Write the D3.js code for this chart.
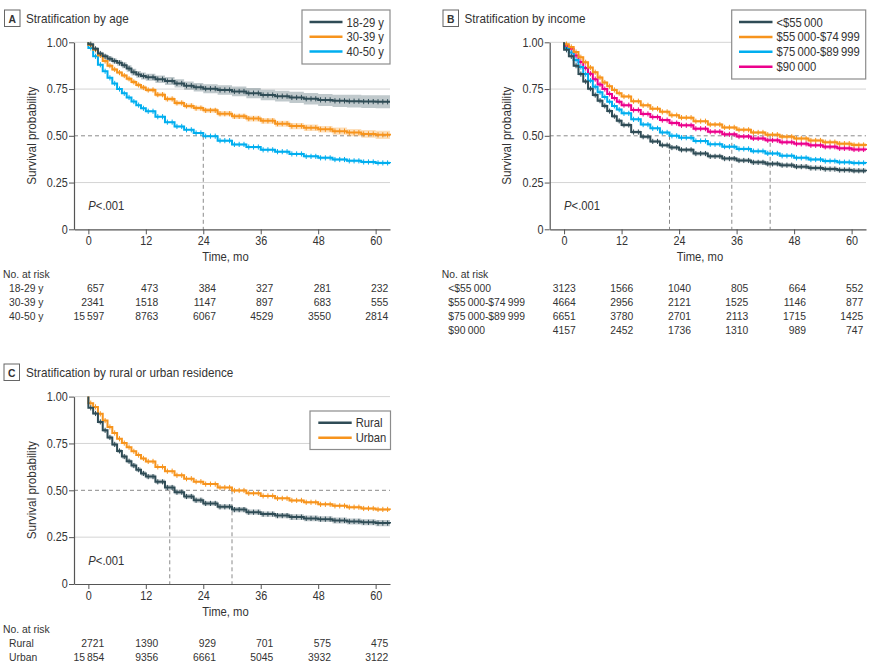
<!DOCTYPE html>
<html><head><meta charset="utf-8">
<script src="https://cdn.jsdelivr.net/npm/d3@7"></script>
<style>
body{margin:0;background:#fff}
text{font-family:"Liberation Sans",Arial,sans-serif;fill:#333}
</style>
</head><body><svg id="c" width="875" height="668"></svg>
<script>
// ---------- DATA ----------
const months = [0,1,2,3,4,5,6,7,8,9,10,11,12,14,16,18,20,22,24,27,30,33,36,39,42,45,48,51,54,57,60,63];
const xTicks = [0,12,24,36,48,60];
const yTicks = [0,0.25,0.5,0.75,1];
const riskTimes = [0,12,24,36,48,60];

// Panel A: age
const ageLabels = ["18-29 y","30-39 y","40-50 y"];
const age1829 = [0.99,0.965,0.94,0.925,0.912,0.9,0.89,0.877,0.86,0.84,0.828,0.82,0.813,0.803,0.793,0.78,0.768,0.76,0.752,0.745,0.737,0.728,0.718,0.712,0.705,0.698,0.692,0.687,0.685,0.683,0.682,0.682];
const age3039 = [0.985,0.96,0.93,0.9,0.875,0.855,0.838,0.822,0.805,0.788,0.772,0.758,0.745,0.72,0.697,0.676,0.66,0.648,0.636,0.618,0.604,0.592,0.58,0.565,0.552,0.543,0.535,0.525,0.517,0.51,0.505,0.502];
const age4050 = [0.97,0.925,0.88,0.845,0.81,0.78,0.75,0.727,0.705,0.683,0.664,0.647,0.631,0.602,0.573,0.55,0.532,0.515,0.498,0.474,0.454,0.44,0.425,0.415,0.403,0.39,0.382,0.373,0.366,0.36,0.355,0.353];
const ci1829 = [0.004,0.008,0.01,0.012,0.013,0.014,0.015,0.016,0.017,0.018,0.018,0.019,0.019,0.02,0.021,0.022,0.022,0.023,0.024,0.025,0.026,0.027,0.028,0.029,0.03,0.031,0.032,0.033,0.034,0.034,0.035,0.035];
const ci3039 = [0.003,0.005,0.006,0.007,0.008,0.008,0.009,0.009,0.01,0.01,0.01,0.011,0.011,0.011,0.012,0.012,0.013,0.013,0.013,0.014,0.014,0.015,0.015,0.016,0.017,0.017,0.018,0.019,0.02,0.021,0.022,0.022];
const ci4050 = [0.002,0.003,0.003,0.004,0.004,0.004,0.004,0.004,0.004,0.005,0.005,0.005,0.005,0.005,0.005,0.005,0.005,0.005,0.005,0.006,0.006,0.006,0.006,0.006,0.006,0.006,0.007,0.007,0.007,0.007,0.007,0.007];
const ageRisk = [[657,473,384,327,281,232],[2341,1518,1147,897,683,555],[15597,8763,6067,4529,3550,2814]];
const ageMedians = [24];

// Panel B: income
const incomeLabels = ["<$55\u2009000","$55\u2009000-$74\u2009999","$75\u2009000-$89\u2009999","$90\u2009000"];
const incLow = [0.96,0.925,0.875,0.83,0.79,0.752,0.718,0.688,0.66,0.632,0.605,0.58,0.558,0.52,0.495,0.47,0.45,0.437,0.425,0.405,0.39,0.378,0.368,0.358,0.35,0.343,0.335,0.328,0.322,0.317,0.313,0.311];
const incMid = [0.99,0.975,0.948,0.92,0.893,0.865,0.84,0.812,0.785,0.765,0.745,0.728,0.71,0.685,0.663,0.645,0.628,0.61,0.597,0.578,0.56,0.545,0.532,0.518,0.506,0.495,0.485,0.475,0.466,0.458,0.451,0.447];
const incUpper = [0.97,0.945,0.905,0.868,0.83,0.795,0.762,0.733,0.707,0.682,0.66,0.64,0.62,0.588,0.56,0.54,0.518,0.5,0.49,0.472,0.455,0.442,0.43,0.418,0.406,0.393,0.382,0.373,0.365,0.359,0.355,0.353];
const incHigh = [0.98,0.965,0.93,0.895,0.862,0.832,0.803,0.775,0.75,0.724,0.702,0.682,0.664,0.638,0.617,0.6,0.584,0.568,0.556,0.538,0.522,0.508,0.496,0.486,0.476,0.466,0.457,0.449,0.441,0.433,0.427,0.424];
const ciIncLow = [0.004,0.006,0.007,0.008,0.008,0.008,0.009,0.009,0.009,0.009,0.009,0.009,0.009,0.009,0.009,0.009,0.009,0.01,0.01,0.01,0.01,0.01,0.01,0.011,0.011,0.011,0.011,0.012,0.012,0.012,0.012,0.012];
const ciIncMid = [0.003,0.004,0.005,0.005,0.006,0.006,0.006,0.006,0.006,0.006,0.006,0.006,0.007,0.007,0.007,0.007,0.007,0.007,0.007,0.007,0.008,0.008,0.008,0.008,0.008,0.009,0.009,0.009,0.009,0.01,0.01,0.01];
const ciIncUpper = [0.003,0.004,0.004,0.005,0.005,0.005,0.005,0.005,0.005,0.005,0.005,0.005,0.006,0.006,0.006,0.006,0.006,0.006,0.006,0.006,0.006,0.007,0.007,0.007,0.007,0.007,0.007,0.008,0.008,0.008,0.008,0.008];
const ciIncHigh = [0.003,0.004,0.005,0.005,0.006,0.006,0.006,0.006,0.006,0.006,0.006,0.007,0.007,0.007,0.007,0.007,0.007,0.008,0.008,0.008,0.008,0.008,0.008,0.009,0.009,0.009,0.009,0.009,0.01,0.01,0.01,0.01];
const incomeRisk = [[3123,1566,1040,805,664,552],[4664,2956,2121,1525,1146,877],[6651,3780,2701,2113,1715,1425],[4157,2452,1736,1310,989,747]];
const incomeMedians = [22,35,43];

// Panel C: residence
const resLabels = ["Rural","Urban"];
const rural = [0.94,0.91,0.865,0.82,0.782,0.745,0.71,0.68,0.655,0.632,0.61,0.59,0.573,0.545,0.515,0.49,0.467,0.447,0.43,0.412,0.397,0.383,0.373,0.365,0.357,0.35,0.346,0.339,0.334,0.329,0.325,0.323];
const urban = [0.965,0.945,0.908,0.872,0.838,0.806,0.775,0.752,0.73,0.708,0.688,0.67,0.654,0.625,0.602,0.58,0.562,0.546,0.533,0.515,0.499,0.484,0.47,0.457,0.446,0.436,0.425,0.417,0.41,0.403,0.398,0.396];
const ciRural = [0.004,0.007,0.008,0.009,0.01,0.01,0.011,0.011,0.011,0.012,0.012,0.012,0.012,0.012,0.013,0.013,0.013,0.013,0.013,0.013,0.014,0.014,0.014,0.014,0.015,0.015,0.015,0.016,0.016,0.016,0.017,0.017];
const ciUrban = [0.002,0.003,0.003,0.004,0.004,0.004,0.004,0.004,0.004,0.004,0.004,0.005,0.005,0.005,0.005,0.005,0.005,0.005,0.005,0.005,0.005,0.006,0.006,0.006,0.006,0.006,0.006,0.006,0.007,0.007,0.007,0.007];
const resRisk = [[2721,1390,929,701,575,475],[15854,9356,6661,5045,3932,3122]];
const resMedians = [17,30];

// ---------- STYLE / LAYOUT ----------
const C_DARK = "#2f4c56", C_ORANGE = "#f7941d", C_BLUE = "#00aeef", C_PINK = "#ec008c";
const SX = 0.9; // horizontal condensing of text
const svg = d3.select("#c");
const fmtN = n => n >= 10000 ? String(n).replace(/(\d+)(\d{3})$/, "$1\u2009$2") : String(n);
function T(g, x, y, str, size, anchor, extra){
  return g.append("text").attr("transform",`translate(${x},${y})${extra||""} scale(${SX},1)`)
    .attr("text-anchor",anchor||"start").style("font-size",size+"px").text(str);
}

const panels = [
  {letter:"A", title:"Stratification by age", left:74, right:390, top:42.3, bottom:229.3,
   titleY:23, boxX:4.5, titleX:26, ylabX:36,
   series:[{name:ageLabels[0],v:age1829,ci:ci1829,c:C_DARK},{name:ageLabels[1],v:age3039,ci:ci3039,c:C_ORANGE},{name:ageLabels[2],v:age4050,ci:ci4050,c:C_BLUE}],
   medians:ageMedians, legend:{x:302,y:10,w:88,h:54,lx:309.5,lw:33,row0:22,dy:14.8},
   risk:ageRisk, riskLabelX0:3, riskLabelX:9, riskY:278.3, riskCols:[104.3,158.3,216,273.3,331,388.3], timeX:225.5},
  {letter:"B", title:"Stratification by income", left:549.7, right:866, top:42.3, bottom:229.3,
   titleY:23, boxX:443, titleX:464.5, ylabX:511,
   series:[{name:incomeLabels[0],v:incLow,ci:ciIncLow,c:C_DARK},{name:incomeLabels[1],v:incMid,ci:ciIncMid,c:C_ORANGE},{name:incomeLabels[2],v:incUpper,ci:ciIncUpper,c:C_BLUE},{name:incomeLabels[3],v:incHigh,ci:ciIncHigh,c:C_PINK}],
   medians:incomeMedians, legend:{x:731.7,y:10,w:134,h:69,lx:739,lw:33.5,row0:22,dy:14.9},
   risk:incomeRisk, riskLabelX0:441.7, riskLabelX:448.3, riskY:278.3, riskCols:[575.7,633.3,691,748.3,806,863.3], timeX:700},
  {letter:"C", title:"Stratification by rural or urban residence", left:74, right:390, top:396.6, bottom:584,
   titleY:377, boxX:4, titleX:26, ylabX:36,
   series:[{name:resLabels[0],v:rural,ci:ciRural,c:C_DARK},{name:resLabels[1],v:urban,ci:ciUrban,c:C_ORANGE}],
   medians:resMedians, legend:{x:310,y:411,w:80.5,h:38.5,lx:318.3,lw:33.4,row0:422.7,dy:15},
   risk:resRisk, riskLabelX0:3, riskLabelX:9, riskY:632.7, riskCols:[104.3,158.3,216,273.3,331,388.3], timeX:225.5}
];

function stepVal(vals, t){
  let v = 1;
  for (let i=0;i<months.length;i++){ if (months[i] <= t) v = vals[i]; else break; }
  return v;
}

panels.forEach(p => {
  const g = svg.append("g");
  const x = d3.scaleLinear().domain([-3,63]).range([p.left,p.right]);
  const y = d3.scaleLinear().domain([0,1]).range([p.bottom,p.top]);

  // title
  g.append("rect").attr("x",p.boxX).attr("y",p.titleY-13).attr("width",15.5).attr("height",16.5)
    .attr("fill","none").attr("stroke","#666").attr("stroke-width",1);
  T(g, p.boxX+7.75, p.titleY-0.5, p.letter, 11.5, "middle").style("font-weight","bold");
  T(g, p.titleX, p.titleY, p.title, 13);

  // grid
  [0.25,0.75,1].forEach(v => g.append("line").attr("x1",p.left).attr("x2",p.right)
    .attr("y1",y(v)).attr("y2",y(v)).attr("stroke","#d4d4d4").attr("stroke-width",1));
  g.append("line").attr("x1",p.left).attr("x2",p.right).attr("y1",y(0.5)).attr("y2",y(0.5))
    .attr("stroke","#8a8a8a").attr("stroke-width",1).attr("stroke-dasharray","4,3");
  p.medians.forEach(m => g.append("line").attr("x1",x(m)).attr("x2",x(m)).attr("y1",y(0.5)).attr("y2",y(0))
    .attr("stroke","#8a8a8a").attr("stroke-width",1).attr("stroke-dasharray","4,3"));

  // bands
  const area = d3.area().curve(d3.curveStepAfter).x(d=>x(d[0])).y0(d=>y(d[1]-d[2])).y1(d=>y(d[1]+d[2]));
  p.series.forEach(s => {
    const pts = months.map((m,i)=>[m,s.v[i],s.ci[i]]);
    g.append("path").attr("d",area(pts)).attr("fill",s.c).attr("opacity",0.3);
  });
  // lines + censor marks
  const line = d3.line().curve(d3.curveStepAfter).x(d=>x(d[0])).y(d=>y(d[1]));
  p.series.slice().reverse().forEach(s => {
    const pts = [[0,1]].concat(months.map((m,i)=>[m,s.v[i]]));
    g.append("path").attr("d",line(pts)).attr("fill","none").attr("stroke",s.c).attr("stroke-width",2);
    const cens = d3.range(0,63).map(m => [m+0.5, stepVal(s.v, m+0.5)]);
    g.selectAll(null).data(cens).enter().append("line")
      .attr("x1",d=>x(d[0])).attr("x2",d=>x(d[0])).attr("y1",d=>y(d[1])-2.6).attr("y2",d=>y(d[1])+2.6)
      .attr("stroke",s.c).attr("stroke-width",1);
  });

  // axes
  const ya = g.append("g").attr("transform",`translate(${p.left},0)`)
    .call(d3.axisLeft(y).tickValues(yTicks).tickSize(5).tickSizeOuter(0).tickPadding(2)
      .tickFormat(d => d===0 ? "0" : d3.format(".2f")(d)));
  const xa = g.append("g").attr("transform",`translate(0,${p.bottom})`)
    .call(d3.axisBottom(x).tickValues(xTicks).tickSize(5).tickSizeOuter(0).tickPadding(2.5));
  [ya,xa].forEach(a => {
    a.select(".domain").attr("stroke","#555").attr("stroke-width",1.2);
    a.selectAll(".tick line").attr("stroke","#555");
    a.selectAll("text").style("font-size","12px").style("font-family",null).attr("fill","#333")
      .attr("transform",`scale(${SX},1)`);
  });
  T(g, p.ylabX, (p.top+p.bottom)/2, "Survival probability", 13, "middle", " rotate(-90)");
  T(g, p.timeX, p.bottom+32, "Time, mo", 12.5, "middle");
  const pt = T(g, x(0), p.bottom-19.5, "", 12.5);
  pt.append("tspan").style("font-style","italic").text("P");
  pt.append("tspan").text("<.001");

  // legend
  const L = p.legend;
  g.append("rect").attr("x",L.x).attr("y",L.y).attr("width",L.w).attr("height",L.h)
    .attr("fill","#fff").attr("stroke","#8c8c8c").attr("stroke-width",1.2);
  p.series.forEach((s,i) => {
    const yy = L.row0 + i*L.dy;
    g.append("line").attr("x1",L.lx).attr("x2",L.lx+L.lw).attr("y1",yy).attr("y2",yy)
      .attr("stroke",s.c).attr("stroke-width",2.5);
    T(g, L.lx+L.lw+4, yy+4.5, s.name, 12.5);
  });

  // risk table
  T(g, p.riskLabelX0, p.riskY, "No. at risk", 11.5);
  p.series.forEach((s,i) => {
    const yy = p.riskY + 14*(i+1);
    T(g, p.riskLabelX, yy, s.name, 11.5);
    riskTimes.forEach((t,j) => T(g, p.riskCols[j], yy, fmtN(p.risk[i][j]), 11.5, "end"));
  });
});
</script>
</body></html>
